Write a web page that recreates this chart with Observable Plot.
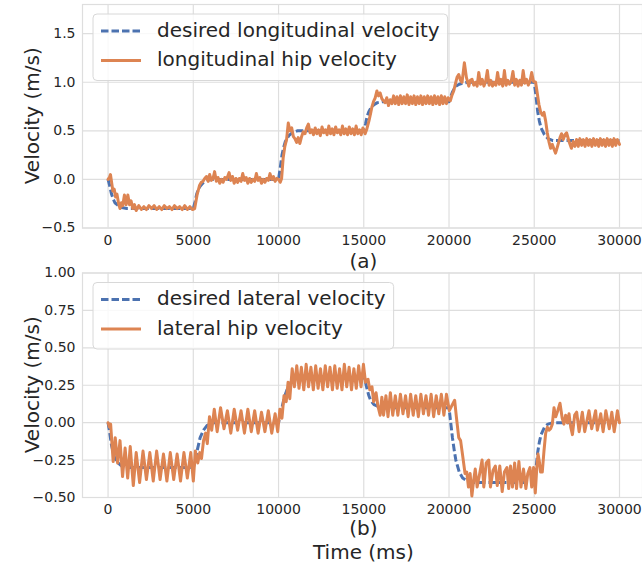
<!DOCTYPE html>
<html><head><meta charset="utf-8">
<script src="https://cdn.jsdelivr.net/npm/d3@7"></script>
<script src="https://cdn.jsdelivr.net/npm/@observablehq/plot@0.6"></script>
<style>
body{margin:0;background:#fff;}
#wrap{position:relative;width:642px;height:568px;overflow:hidden;background:#fff;}
#wrap svg{position:absolute;left:0;top:0;}
</style></head><body><div id="wrap"></div>
<script>
const xTicks = [0, 5000, 10000, 15000, 20000, 25000, 30000];
const lonTicks = [-0.5, 0, 0.5, 1, 1.5];
const latTicks = [-0.5, -0.25, 0, 0.25, 0.5, 0.75, 1];
const lonLabels = ["desired longitudinal velocity", "longitudinal hip velocity"];
const latLabels = ["desired lateral velocity", "lateral hip velocity"];

const lonDesired = [[0,0],[100,-0.07],[200,-0.15],[300,-0.2],[400,-0.24],[600,-0.27],[800,-0.29],[1100,-0.3],
[5000,-0.3],[5100,-0.23],[5200,-0.15],[5300,-0.1],[5400,-0.07],[5600,-0.03],[5800,-0.01],[6100,0],
[10000,0],[10100,0.12],[10200,0.25],[10300,0.33],[10400,0.39],[10600,0.45],[10800,0.48],[11100,0.5],
[15000,0.5],[15100,0.57],[15200,0.65],[15300,0.7],[15400,0.73],[15600,0.77],[15800,0.79],[16100,0.8],
[20000,0.8],[20100,0.85],[20200,0.9],[20300,0.93],[20400,0.96],[20600,0.98],[20800,0.99],[21100,1.0],
[25000,1.0],[25100,0.86],[25200,0.7],[25300,0.6],[25400,0.53],[25600,0.46],[25800,0.42],[26100,0.4],[30000,0.4]];

const lonHip = [[0,0.00],[80,0.02],[140,0.05],[200,-0.02],[280,-0.12],[360,-0.10],[440,-0.18],[520,-0.15],[620,-0.25],[700,-0.30],[780,-0.24],[860,-0.27],[960,-0.16],[1060,-0.26],[1160,-0.16],[1260,-0.26],[1350,-0.22],[1450,-0.30],[1550,-0.26],[1650,-0.32],
[1800,-0.27],[1950,-0.31],[2100,-0.28],[2250,-0.31],[2400,-0.27],[2550,-0.30],[2700,-0.27],[2850,-0.31],[3000,-0.28],[3150,-0.31],[3300,-0.27],[3450,-0.30],[3600,-0.28],[3750,-0.31],[3900,-0.27],[4050,-0.30],[4200,-0.28],[4350,-0.31],[4500,-0.27],[4650,-0.31],[4800,-0.28],[4950,-0.31],[5080,-0.30],
[5220,-0.16],[5370,-0.06],[5470,-0.03],[5570,-0.02],[5670,0.01],[5770,0.03],[5870,-0.02],[5960,0.05],[6060,-0.01],[6160,0.01],[6250,0.08],[6350,-0.02],[6450,0.02],[6550,-0.04],[6650,0.00],[6750,-0.03],[6850,0.02],[6950,0.00],[7100,0.07],[7200,-0.01],[7300,0.03],[7400,-0.04],[7500,0.01],[7600,-0.03],[7700,0.01],[7800,-0.02],[7900,0.06],[8000,-0.01],[8100,0.02],[8200,-0.04],[8300,0.01],[8400,-0.03],[8500,0.00],[8600,-0.02],[8700,0.06],[8800,-0.01],[8900,0.02],[9000,-0.04],[9100,0.00],[9200,-0.03],[9300,0.01],[9400,-0.01],[9500,0.06],[9600,0.00],[9700,0.03],[9800,-0.02],[9900,0.01],[10000,0.00],[10100,-0.03],[10180,0.01],
[10270,0.22],[10370,0.34],[10470,0.41],[10570,0.58],[10670,0.50],[10770,0.53],[10870,0.44],[10960,0.42],[11060,0.38],[11150,0.43],[11250,0.37],[11350,0.44],[11450,0.49],[11550,0.47],[11650,0.53],[11750,0.57],[11850,0.48],[11950,0.51],[12050,0.46],[12150,0.53],[12250,0.47],[12350,0.51],[12450,0.45],[12550,0.54],[12650,0.48],[12750,0.51],[12850,0.46],[12950,0.55],[13050,0.47],[13150,0.52],[13250,0.46],[13350,0.54],[13450,0.48],[13550,0.51],[13650,0.46],[13750,0.55],[13850,0.47],[13950,0.52],[14050,0.46],[14150,0.54],[14250,0.47],[14350,0.52],[14450,0.46],[14550,0.55],[14650,0.47],[14750,0.51],[14850,0.46],[14950,0.53],[15080,0.47],[15180,0.52],
[15300,0.60],[15400,0.68],[15470,0.74],[15570,0.80],[15670,0.84],[15770,0.91],[15860,0.86],[15960,0.89],[16060,0.83],[16160,0.81],[16260,0.79],[16350,0.84],[16450,0.76],[16550,0.82],
[16650,0.78],[16750,0.86],[16850,0.78],[16950,0.85],[17050,0.77],[17150,0.86],[17250,0.78],[17350,0.85],[17450,0.78],[17550,0.87],[17650,0.77],[17750,0.85],[17850,0.78],[17950,0.86],[18050,0.77],[18150,0.85],[18250,0.78],[18350,0.86],[18450,0.77],[18550,0.85],[18650,0.78],[18750,0.86],[18850,0.78],[18950,0.85],[19050,0.77],[19150,0.86],[19250,0.78],[19350,0.85],[19450,0.77],[19550,0.86],[19650,0.78],[19750,0.85],[19850,0.78],[19950,0.84],
[20080,0.81],[20180,0.87],[20275,0.91],[20370,0.98],[20470,1.05],[20570,1.08],[20670,1.02],[20765,1.00],[20900,1.20],[21020,1.05],[21160,0.96],[21250,1.02],[21350,1.03],[21450,0.97],[21550,1.00],[21650,0.96],[21745,1.10],[21850,0.98],[21950,1.03],[22050,0.96],[22150,1.01],[22250,1.12],[22350,0.97],[22450,1.02],[22550,0.96],[22650,1.00],[22750,0.97],[22850,1.10],[22950,0.98],[23050,1.03],[23150,0.96],[23250,1.12],[23350,0.97],[23450,1.02],[23550,0.98],[23650,1.01],[23750,1.11],[23850,0.97],[23950,1.03],[24050,0.96],[24150,1.02],[24250,0.97],[24350,1.12],[24450,0.99],[24550,1.03],[24650,0.97],[24750,1.01],[24850,1.10],[24950,1.01],
[25078,1.00],[25140,0.93],[25275,0.77],[25380,0.69],[25480,0.66],[25570,0.69],[25670,0.60],[25765,0.48],[25860,0.39],[25960,0.32],[26060,0.36],[26160,0.31],[26250,0.27],[26350,0.33],[26510,0.43],[26600,0.47],[26700,0.41],[26800,0.46],[26900,0.48],[27040,0.39],[27180,0.32],[27280,0.39],[27380,0.34],
[27480,0.41],[27580,0.34],[27680,0.42],[27780,0.35],[27880,0.41],[27980,0.34],[28080,0.42],[28180,0.35],[28280,0.41],[28380,0.34],[28480,0.42],[28580,0.35],[28680,0.41],[28780,0.34],[28880,0.42],[28980,0.35],[29080,0.41],[29180,0.34],[29280,0.42],[29380,0.35],[29480,0.41],[29580,0.34],[29680,0.42],[29780,0.35],[29880,0.41],[30000,0.36]];

const latDesired = [[0,0],[100,-0.07],[200,-0.15],[300,-0.2],[400,-0.24],[600,-0.27],[800,-0.29],[1100,-0.3],
[5000,-0.3],[5100,-0.26],[5200,-0.2],[5300,-0.15],[5400,-0.1],[5600,-0.05],[5800,-0.02],[6100,0],
[10000,0],[10100,0.05],[10200,0.1],[10300,0.15],[10400,0.19],[10600,0.25],[10800,0.28],[11100,0.3],
[15000,0.3],[15100,0.27],[15200,0.22],[15300,0.18],[15400,0.15],[15600,0.12],[15800,0.11],[16100,0.1],
[20000,0.1],[20100,0.0],[20200,-0.1],[20300,-0.18],[20400,-0.25],[20600,-0.33],[20800,-0.37],[21200,-0.4],
[25000,-0.4],[25100,-0.31],[25200,-0.2],[25300,-0.13],[25400,-0.08],[25600,-0.03],[25800,-0.01],[26100,0],[30000,0]];

const latHip = [[0,0.00],[80,-0.03],[150,-0.01],[300,-0.26],[420,-0.10],[560,-0.27],[700,-0.12],[850,-0.36],[1000,-0.17],[1150,-0.37],[1300,-0.16],[1480,-0.42],[1650,-0.20],[1850,-0.40],[2050,-0.19],[2250,-0.38],[2450,-0.20],[2650,-0.39],[2850,-0.19],[3050,-0.38],[3250,-0.21],[3450,-0.39],[3650,-0.20],[3850,-0.38],[4050,-0.21],[4250,-0.39],[4450,-0.20],[4650,-0.37],[4850,-0.20],[5000,-0.39],
[5120,-0.19],[5260,-0.27],[5380,-0.20],[5480,-0.24],[5600,-0.12],[5720,-0.07],[5820,-0.14],[5950,0.04],[6080,-0.05],[6230,0.09],[6400,-0.06],[6600,0.10],[6800,-0.04],[7000,0.08],[7200,-0.07],[7400,0.09],[7600,-0.05],[7800,0.08],[8000,-0.07],[8200,0.09],[8400,-0.06],[8600,0.08],[8800,-0.07],[9000,0.07],[9200,-0.06],[9400,0.08],[9600,-0.07],[9800,0.06],[9950,-0.06],
[10080,0.09],[10200,0.03],[10320,0.18],[10450,0.14],[10560,0.27],[10660,0.16],[10800,0.36],[10930,0.24],[11070,0.38],[11200,0.23],[11340,0.37],[11480,0.22],[11620,0.39],[11760,0.24],[11900,0.37],[12040,0.22],[12180,0.38],[12320,0.23],[12460,0.36],[12600,0.22],[12740,0.38],[12880,0.24],[13020,0.37],[13160,0.22],[13300,0.38],[13440,0.23],[13580,0.36],[13720,0.22],[13860,0.39],[14000,0.24],[14140,0.37],[14280,0.22],[14420,0.36],[14560,0.23],[14700,0.38],[14840,0.24],[14980,0.39],
[15100,0.27],[15250,0.29],[15350,0.22],[15480,0.24],[15580,0.14],[15720,0.20],[15830,0.11],[15960,0.05],[16060,0.17],[16160,0.05],[16300,0.18],[16420,0.04],[16560,0.20],[16700,0.05],[16850,0.18],[17000,0.05],[17150,0.19],[17300,0.06],[17450,0.18],[17600,0.04],[17750,0.19],[17900,0.05],[18050,0.18],[18200,0.04],[18350,0.19],[18500,0.06],[18650,0.18],[18800,0.05],[18950,0.19],[19100,0.04],[19250,0.18],[19400,0.06],[19550,0.19],[19700,0.05],[19850,0.19],
[20020,0.08],[20150,0.11],[20330,0.15],[20430,0.04],[20570,-0.10],[20680,-0.12],[20800,-0.22],[20940,-0.34],[21040,-0.33],[21140,-0.43],[21240,-0.34],[21340,-0.49],[21440,-0.39],[21540,-0.31],[21650,-0.43],[21800,-0.34],[21940,-0.25],[22040,-0.43],[22180,-0.27],[22330,-0.25],[22430,-0.43],[22580,-0.32],[22720,-0.29],[22830,-0.42],[22980,-0.29],[23120,-0.46],[23250,-0.33],[23400,-0.30],[23500,-0.44],[23610,-0.29],[23720,-0.43],[23850,-0.27],[23960,-0.44],[24100,-0.26],[24220,-0.43],[24370,-0.31],[24510,-0.44],[24620,-0.34],[24750,-0.30],[24850,-0.43],[24960,-0.30],[25060,-0.47],
[25150,-0.30],[25220,-0.21],[25300,-0.26],[25370,-0.33],[25470,-0.33],[25570,-0.19],[25670,-0.07],[25770,-0.03],[25870,-0.05],[25960,-0.04],[26060,-0.01],[26160,0.10],[26260,0.04],[26380,0.08],[26510,0.13],[26640,0.03],[26740,-0.01],[26840,0.05],[26940,0.00],[27040,0.06],[27140,-0.03],[27240,-0.08],[27370,0.05],[27490,0.07],[27630,-0.06],[27820,0.07],[27960,-0.06],[28210,0.08],[28370,-0.04],[28600,0.08],[28700,-0.05],[28900,0.06],[29040,-0.06],[29200,0.08],[29400,-0.04],[29550,0.07],[29690,-0.06],[29880,0.08],[30000,0.00]];

const BLUE = "#4C72B0", ORANGE = "#DD8452", GRID = "#dedede", INK = "#262626";
const FONT = "DejaVu Sans";
const rows = a => a.map(([t, v]) => ({t, v}));
const W = 642, H = 568, ML = 82;

function panel(o) {
  const chart = Plot.plot({
    width: W, height: H,
    marginLeft: ML, marginRight: 0, marginTop: o.top, marginBottom: H - o.bottom,
    style: {background: "transparent", overflow: "visible", fontFamily: FONT, color: INK},
    x: {domain: [-1500, 31350]},
    y: {domain: o.ydomain},
    marks: [
      Plot.gridX(xTicks, {stroke: GRID, strokeOpacity: 1, strokeWidth: 1.2}),
      Plot.gridY(o.yticks, {stroke: GRID, strokeOpacity: 1, strokeWidth: 1.2}),
      Plot.frame({stroke: GRID, strokeWidth: 1.2}),
      Plot.axisX(xTicks, {tickSize: 0, tickPadding: 7, fontSize: 14, label: null, tickFormat: d => String(d)}),
      Plot.axisY(o.yticks, {tickSize: 0, tickPadding: 7, fontSize: 14, label: null, tickFormat: o.fmt}),
      Plot.line(rows(o.desired), {x: "t", y: "v", stroke: BLUE, strokeWidth: 3, strokeDasharray: "7.5,3", strokeLinecap: "butt"}),
      Plot.line(rows(o.hip), {x: "t", y: "v", stroke: ORANGE, strokeWidth: 3})
    ]
  });
  document.getElementById("wrap").appendChild(chart);
  const svg = d3.select(chart);
  const cx = (ML + 644.8) / 2;
  const cy = (o.top + o.bottom) / 2;
  const txt = (sel) => sel.attr("font-size", 20).attr("font-family", FONT).attr("fill", INK);
  txt(svg.append("text").attr("transform", `translate(33,${cy}) rotate(-90)`)
    .attr("text-anchor", "middle").attr("dominant-baseline", "middle")).text("Velocity (m/s)");
  txt(svg.append("text").attr("x", cx).attr("y", o.sublabelY)
    .attr("text-anchor", "middle").attr("dominant-baseline", "middle")).text(o.sub);
  if (o.xtitle) {
    txt(svg.append("text").attr("x", cx).attr("y", o.xtitleY)
      .attr("text-anchor", "middle").attr("dominant-baseline", "middle")).text(o.xtitle);
  }
  // legend
  const lx = ML + 11, ly = o.top + 10;
  const g = svg.append("g");
  const box = g.append("rect").attr("x", lx).attr("y", ly).attr("rx", 4).attr("ry", 4)
    .attr("fill", "white").attr("fill-opacity", 0.8).attr("stroke", "#d8d8d8").attr("stroke-width", 1);
  const rowY = [ly + 17, ly + 46.5];
  g.append("line").attr("x1", lx + 8).attr("x2", lx + 48).attr("y1", rowY[0]).attr("y2", rowY[0])
    .attr("stroke", BLUE).attr("stroke-width", 3).attr("stroke-dasharray", "7.5,3");
  g.append("line").attr("x1", lx + 8).attr("x2", lx + 48).attr("y1", rowY[1]).attr("y2", rowY[1])
    .attr("stroke", ORANGE).attr("stroke-width", 3);
  let maxW = 0;
  o.labels.forEach((s, i) => {
    const t = txt(g.append("text").attr("x", lx + 64).attr("y", rowY[i])
      .attr("text-anchor", "start").attr("dominant-baseline", "middle")).text(s);
    maxW = Math.max(maxW, t.node().getComputedTextLength());
  });
  box.attr("width", 64 + maxW + 8).attr("height", 66.5);
}

panel({top: 4, bottom: 227.5, ydomain: [-0.5, 1.8], yticks: lonTicks, fmt: d3.format(".1f"),
  desired: lonDesired, hip: lonHip, labels: lonLabels, sub: "(a)", sublabelY: 262});
panel({top: 272.5, bottom: 497, ydomain: [-0.5, 1.0], yticks: latTicks, fmt: d3.format(".2f"),
  desired: latDesired, hip: latHip, labels: latLabels, sub: "(b)", sublabelY: 529, xtitle: "Time (ms)", xtitleY: 553});
</script></body></html>
